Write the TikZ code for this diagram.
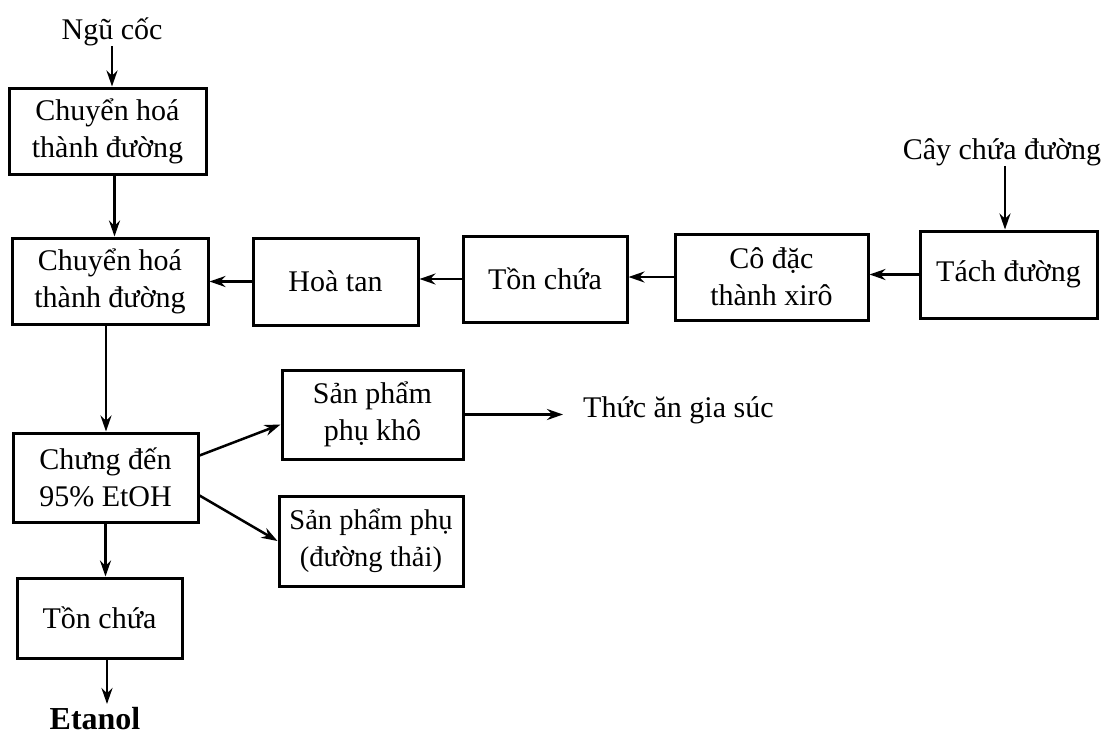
\documentclass[tikz,border=0pt]{standalone}
\usepackage{fontspec}
\setmainfont{Liberation Serif}
\usetikzlibrary{arrows.meta,calc}
\begin{document}
\begin{tikzpicture}[x=1pt,y=-1pt,
  box/.style={draw,line width=3pt,align=center,inner sep=0pt,font=\fontsize{30}{37}\selectfont},
  lbl/.style={align=center,inner sep=0pt,font=\fontsize{30}{37}\selectfont},
  arr/.style={line width=2.5pt,-{Stealth[length=16pt,width=11pt]}}]
\useasboundingbox (0,0) rectangle (1114,739);
\node[lbl] (ngu) at (112,32) {Ngũ cốc};
\node[box,minimum width=197pt,minimum height=86pt] (b1) at (107.5,131) {Chuyển hoá\\thành đường};
\node[box,minimum width=196pt,minimum height=86pt] (b2) at (110,281) {Chuyển hoá\\thành đường};
\node[box,minimum width=165pt,minimum height=87pt] (hoa) at (335.5,281.5) {Hoà tan};
\node[box,minimum width=164pt,minimum height=86pt] (ton1) at (545,279) {Tồn chứa};
\node[box,minimum width=193pt,minimum height=86pt] (co) at (771.5,277) {Cô đặc\\thành xirô};
\node[box,minimum width=177pt,minimum height=87pt] (tach) at (1008.5,274.5) {Tách đường};
\node[lbl] (cay) at (1002,152) {Cây chứa đường};
\node[box,minimum width=185pt,minimum height=89pt] (chung) at (105.5,477.5) {Chưng đến\\95\% EtOH};
\node[box,minimum width=181pt,minimum height=89pt] (spk) at (372.5,414.5) {Sản phẩm\\phụ khô};
\node[box,minimum width=184pt,minimum height=90pt,font=\fontsize{28.5}{37}\selectfont] (spt) at (371,541) {Sản phẩm phụ\\(đường thải)};
\node[box,minimum width=165pt,minimum height=80pt] (ton2) at (99.5,618) {Tồn chứa};
\node[lbl,font=\fontsize{32}{38}\selectfont\bfseries] (eta) at (95,719) {Etanol};
\node[lbl,anchor=west] (thuc) at (583,410) {Thức ăn gia súc};
\coordinate (etatop) at (107,704);
\draw[arr] (ngu.south) -- (ngu.south |- b1.north);
\draw[arr] ([xshift=7pt]b1.south) -- ([xshift=7pt]b1.south |- b2.north);
\draw[arr] ([xshift=-4pt]b2.south) -- ([xshift=-4pt]b2.south |- chung.north);
\draw[arr] (chung.south) -- (chung.south |- ton2.north);
\draw[arr] (ton2.south -| etatop) -- (etatop);
\draw[arr] ([xshift=3pt]cay.south) -- ([xshift=3pt]cay.south |- tach.north);
\draw[arr] (tach.west) -- (tach.west -| co.east);
\draw[arr] (co.west) -- (co.west -| ton1.east);
\draw[arr] (ton1.west) -- (ton1.west -| hoa.east);
\draw[arr] (hoa.west) -- (hoa.west -| b2.east);
\draw[arr] ([yshift=22pt]chung.east) -- ([yshift=-10pt]spk.west);
\draw[arr] ([yshift=-18pt]chung.east) -- (spt.west);
\draw[arr,shorten >=20pt] (spk.east) -- (spk.east -| thuc.west);
\end{tikzpicture}
\end{document}
